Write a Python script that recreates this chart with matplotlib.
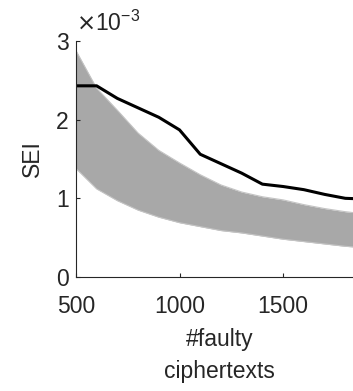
import numpy as np
import matplotlib.pyplot as plt

plt.rcParams['font.family'] = ['Liberation Sans', 'DejaVu Sans']

# number of faulty ciphertexts
n_ct = [500, 600, 700, 800, 900, 1000, 1100, 1200, 1300, 1400, 1500, 1600, 1700, 1800, 1900]

# SEI of the correct key guess (x1e-3)
sei_correct = [2.43, 2.43, 2.27, 2.15, 2.03, 1.87, 1.56, 1.44, 1.32, 1.18, 1.15, 1.11, 1.05, 1.00, 0.99]

# envelope of the SEI for the wrong key guesses (x1e-3)
sei_wrong_hi = [2.88, 2.40, 2.12, 1.83, 1.61, 1.45, 1.30, 1.17, 1.08, 1.02, 0.98, 0.92, 0.87, 0.83, 0.80]
sei_wrong_lo = [1.38, 1.12, 0.97, 0.85, 0.76, 0.69, 0.64, 0.59, 0.56, 0.52, 0.48, 0.45, 0.42, 0.39, 0.37]

txt = '#262626'
fs = 16.5
fig = plt.figure(figsize=(3.53, 3.91), dpi=100)
ax = fig.add_axes([0.215, 0.2916, 0.816, 0.6036])

ax.fill_between(n_ct, sei_wrong_lo, sei_wrong_hi, color='#a8a8a8', lw=0)
ax.plot(n_ct, sei_wrong_hi, color='#c4c4c4', lw=0.8)
ax.plot(n_ct, sei_wrong_lo, color='#c4c4c4', lw=0.8)
ax.plot(n_ct, sei_correct, color='black', lw=2.2)

ax.set_xlim(500, 1890)
ax.set_ylim(0, 3)
ax.set_xticks([500, 1000, 1500])
ax.set_yticks([0, 1, 2, 3])
ax.tick_params(direction='in', length=3, width=0.8, colors=txt, labelsize=fs)
ax.tick_params(axis='y', pad=5)
ax.tick_params(axis='x', pad=13)
for s in ['top', 'right']:
    ax.spines[s].set_visible(False)
for s in ['left', 'bottom']:
    ax.spines[s].set_color(txt)
    ax.spines[s].set_linewidth(0.8)

ax.set_ylabel('SEI', fontsize=fs, color=txt, labelpad=9)
ax.set_xlabel('#faulty\nciphertexts', fontsize=fs, color=txt, linespacing=1.5, labelpad=7)
ax.text(0.0, 1.02, r'$\times$10$^{\mathregular{-3}}$', transform=ax.transAxes,
        fontsize=fs, color=txt, ha='left', va='bottom')

fig.savefig('out.png', dpi=100)
